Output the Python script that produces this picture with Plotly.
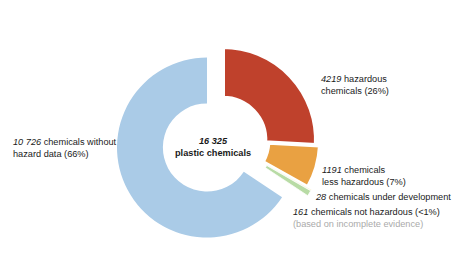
import plotly.graph_objects as go

# ---- data ----
categories = ["hazardous", "less hazardous", "under development", "not hazardous", "without hazard data"]
counts = [4219, 1191, 28, 161, 10726]
colors = ["#bf412c", "#e9a142", "#f3ebbf", "#b8dba5", "#aacbe7"]
label_texts = [
    "<i>4219</i> hazardous<br>chemicals (26%)",
    "<i>1191</i> chemicals<br>less hazardous (7%)",
    "<i>28</i> chemicals under development",
    "<i>161</i> chemicals not hazardous (&lt;1%)",
    "<i>10 726</i> chemicals without<br>hazard data (66%)",
]
note_text = "(based on incomplete evidence)"
center_text = "<b><i>16 325</i></b><br><b>plastic chemicals</b>"
group_pulls = [0, 0.04, 0.09, 0.09, 0]

W, H = 452, 272
TRANSP = "rgba(0,0,0,0)"


def px(x):
    return x / W


def py(y):
    return 1 - y / H


def dom(cx, cy, r):
    return dict(x=[px(cx - r), px(cx + r)], y=[py(cy + r), py(cy - r)])


fig = go.Figure()

# unexploded part (chemicals without hazard data)
fig.add_trace(go.Pie(
    labels=categories, values=counts, sort=False, direction="clockwise", rotation=0,
    hole=0.49, textinfo="none", hoverinfo="skip", showlegend=False,
    marker=dict(colors=[TRANSP] * 4 + [colors[4]], line=dict(width=0)),
    domain=dom(207, 147.5, 90),
))

# exploded group (chemicals with hazard data)
R2 = 93
fig.add_trace(go.Pie(
    labels=categories, values=counts, sort=False, direction="clockwise", rotation=0,
    hole=0.455, textinfo="none", hoverinfo="skip", showlegend=False,
    pull=group_pulls,
    marker=dict(colors=colors[:4] + [TRANSP],
                line=dict(color="white", width=[4, 3, 0.6, 0.8, 0])),
    domain=dom(223, 140, R2 * (1 + max(group_pulls))),
))

font = dict(family="Liberation Sans, Arial, sans-serif", size=9.2, color="#1a1a1a")
ann = [
    (319, 85, label_texts[0]),
    (320, 175.5, label_texts[1]),
    (313, 197, label_texts[2]),
    (291, 212, label_texts[3]),
    (11, 147.5, label_texts[4]),
]
annotations = [
    dict(x=px(x), y=py(y), xref="paper", yref="paper", text=t, showarrow=False,
         xanchor="left", yanchor="middle", align="left", font=font)
    for x, y, t in ann
]
annotations.append(dict(x=px(291), y=py(224), xref="paper", yref="paper", text=note_text,
                        showarrow=False, xanchor="left", yanchor="middle", align="left",
                        font=dict(family=font["family"], size=9.2, color="#aaaaaa")))
annotations.append(dict(x=px(213), y=py(146.5), xref="paper", yref="paper", text=center_text,
                        showarrow=False, xanchor="center", yanchor="middle", align="center",
                        font=font))

fig.update_layout(
    width=W, height=H, autosize=False,
    margin=dict(l=0, r=0, t=0, b=0),
    paper_bgcolor="white", plot_bgcolor="white",
    annotations=annotations,
)

fig.write_html("out.html")
